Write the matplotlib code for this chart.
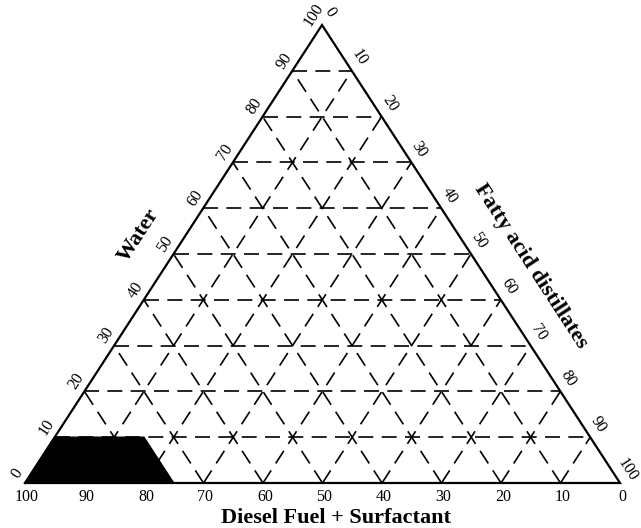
import numpy as np
import matplotlib
matplotlib.use('Agg')
import matplotlib.pyplot as plt
from matplotlib.patches import Polygon

# tick values (percent) used on all three sides
ticks = [0, 10, 20, 30, 40, 50, 60, 70, 80, 90, 100]

# shaded region (percent of each component at the polygon corners)
region_diesel = [100, 90, 75, 75]
region_water = [0, 10, 10, 0]
region_fatty = [0, 0, 15, 25]

axis_titles = ['Diesel Fuel + Surfactant', 'Water', 'Fatty acid distillates']

# triangle corners in pixel space (D=100 bottom-left, F=100 bottom-right, W=100 top)
BL = np.array([25.0, 483.0])
BR = np.array([620.0, 483.0])
TOP = np.array([322.0, 25.0])


def tern(d, w, f):
    """barycentric -> pixel position"""
    s = d + w + f
    return (d * BL + f * BR + w * TOP) / s


plt.rcParams['font.family'] = ['Liberation Serif', 'DejaVu Serif']

fig = plt.figure(figsize=(6.41, 5.28), dpi=100)
ax = fig.add_axes([0, 0, 1, 1])
ax.set_xlim(0, 641)
ax.set_ylim(528, 0)
ax.axis('off')

# shaded region
pts = [tern(d, w, f) for d, w, f in zip(region_diesel, region_water, region_fatty)]
ax.add_patch(Polygon(pts, closed=True, facecolor='black', edgecolor='black', lw=1, zorder=3))

# dashed grid
dash = dict(color='black', lw=1.2, ls=(0, (9, 5)), zorder=2)
for t in ticks[1:-1]:
    # constant water (horizontal)
    a = tern(100 - t, t, 0)
    b = tern(0, t, 100 - t)
    ax.plot([a[0], b[0]], [a[1], b[1]], **dash)
    # constant fatty acid (parallel to left edge)
    a = tern(100 - t, 0, t)
    b = tern(0, 100 - t, t)
    ax.plot([a[0], b[0]], [a[1], b[1]], **dash)
    # constant diesel (parallel to right edge)
    a = tern(t, 0, 100 - t)
    b = tern(t, 100 - t, 0)
    ax.plot([a[0], b[0]], [a[1], b[1]], **dash)

# triangle outline
tri = np.array([BL, BR, TOP, BL])
ax.plot(tri[:, 0], tri[:, 1], color='black', lw=1.6, zorder=4, solid_joinstyle='miter')

ang = np.degrees(np.arctan2(BL[1] - TOP[1], TOP[0] - BL[0]))
ang_r = np.degrees(np.arctan2(BR[1] - TOP[1], BR[0] - TOP[0]))

fs = 11.5
for t in ticks:
    # bottom: diesel, 100 at left
    p = tern(t, 0, 100 - t)
    ax.text(p[0] + 2, p[1] + 14, str(t), ha='center', va='center', fontsize=fs)
    # left: water
    p = tern(100 - t, t, 0)
    ax.text(p[0] - 8, p[1] - 10, str(t), ha='center', va='center', fontsize=fs,
            rotation=ang, rotation_mode='anchor')
    # right: fatty acid, 0 at top
    p = tern(0, 100 - t, t)
    ax.text(p[0] + 8, p[1] - 13, str(t), ha='center', va='center', fontsize=fs,
            rotation=-ang_r, rotation_mode='anchor')

tfs = 16
ax.text(336, 518, axis_titles[0], ha='center', va='center', fontsize=tfs, fontweight='bold')
ax.text(139, 235, axis_titles[1], ha='center', va='center', fontsize=tfs, fontweight='bold',
        rotation=ang, rotation_mode='anchor')
ax.text(531, 266, axis_titles[2], ha='center', va='center', fontsize=tfs, fontweight='bold',
        rotation=-ang_r, rotation_mode='anchor')

fig.savefig('out.png', dpi=100)
